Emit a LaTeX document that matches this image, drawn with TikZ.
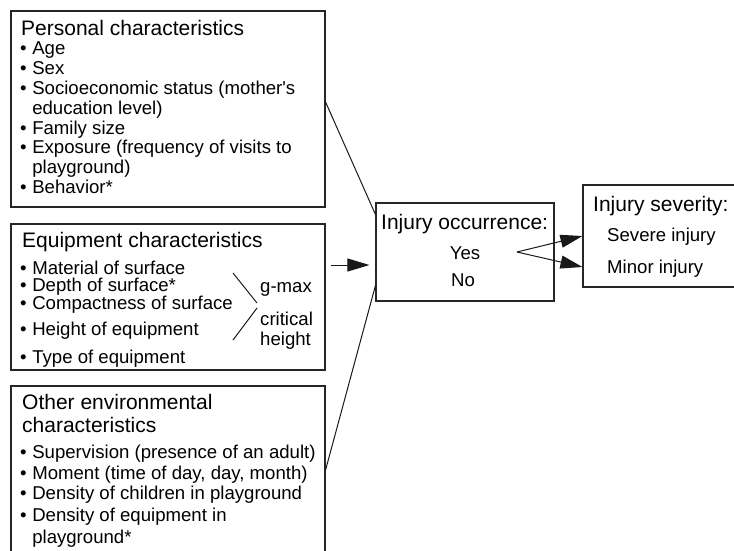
\documentclass[tikz,border=0pt]{standalone}
\usepackage{fontspec}
\setmainfont{Liberation Sans}
\usetikzlibrary{arrows.meta}
\newcommand{\bul}{\textbullet\hspace{0.3em}}

\begin{document}
\begin{tikzpicture}[x=1pt, y=-1pt,
  box/.style={draw=black!85, line width=1.1pt, inner sep=0pt},
  head/.style={anchor=base west, inner sep=0pt, font=\fontsize{21}{24}\selectfont},
  entry/.style={anchor=base west, inner sep=0pt, font=\fontsize{18.6}{20}\selectfont},
  link/.style={black!90, line width=1pt},
  >={Triangle[length=22pt, width=13pt]}]
\useasboundingbox (0,0) rectangle (734,550);
% boxes
\node[box, minimum width=314pt, minimum height=196pt] (personal) at (168,109) {};
\node[box, minimum width=314pt, minimum height=146pt] (equip) at (168,297) {};
\node[box, minimum width=314pt, minimum height=184pt] (other) at (168,478) {};
\node[box, minimum width=178pt, minimum height=98pt] (occur) at (465,252) {};
\node[box, minimum width=167pt, minimum height=102pt] (sever) at (666.5,236) {};
% personal characteristics
\node[head] (perstitle) at (21,35) {Personal characteristics};
\foreach \y/\t in {54/Age, 74/Sex, 94/{Socioeconomic status (mother\textquotesingle s}, 134/Family size,
                   153/{Exposure (frequency of visits to}, 193/Behavior*}
  \node[entry] (pers\y) at (20,\y) {\bul\t};
\node[entry] (pers114) at (20,114) {\hphantom{\bul}education level)};
\node[entry] (pers173) at (20,173) {\hphantom{\bul}playground)};
% equipment characteristics
\node[head] (equiptitle) at (22,247.5) {Equipment characteristics};
\foreach \y/\t in {274/Material of surface, 291/Depth of surface*, 309.5/Compactness of surface,
                   335.5/Height of equipment, 363.5/Type of equipment}
  \node[entry] (eq\y) at (20,\y) {\bul\t};
\node[entry] (gmax) at (260,292) {g-max};
\node[entry] (crit) at (260,325) {critical};
\node[entry] (crith) at (260,345) {height};
\draw[link] (233,273) -- (257,303);
\draw[link] (257,308) -- (233,340);
% other environmental characteristics
\node[head] (othtitle) at (22,409.5) {Other environmental};
\node[head] (othtitle2) at (22,432.5) {characteristics};
\foreach \y/\t in {458.5/{Supervision (presence of an adult)}, 479.5/{Moment (time of day, day, month)},
                   499.5/Density of children in playground, 521.5/Density of equipment in}
  \node[entry] (oth\y) at (20,\y) {\bul\t};
\node[entry] (oth543) at (20,543.5) {\hphantom{\bul}playground*};
% outcome boxes
\node[head] (occtitle) at (381,229.5) {Injury occurrence:};
\node[entry, anchor=base] (yes) at (465,259.5) {Yes};
\node[entry, anchor=base] (no) at (463,286.5) {No};
\node[head] (sevtitle) at (593,211.5) {Injury severity:};
\node[entry] (severe) at (607,241.5) {Severe injury};
\node[entry] (minor) at (607,273.5) {Minor injury};
% connectors
\coordinate (eqout) at (331,265);
\coordinate (fork) at (517,252);
\draw[link] ([yshift=7pt]personal.east) -- ([yshift=-12pt]occur.north west);
\draw[link, ->] (eqout) -- ([xshift=-6pt, yshift=-13pt]occur.west);
\draw[link] ([yshift=8pt]other.east) -- ([yshift=16pt]occur.south west);
\draw[link, ->] (fork) -- (sever.west);
\draw[link, ->] (fork) -- ([yshift=-31pt]sever.west);
\end{tikzpicture}
\end{document}
